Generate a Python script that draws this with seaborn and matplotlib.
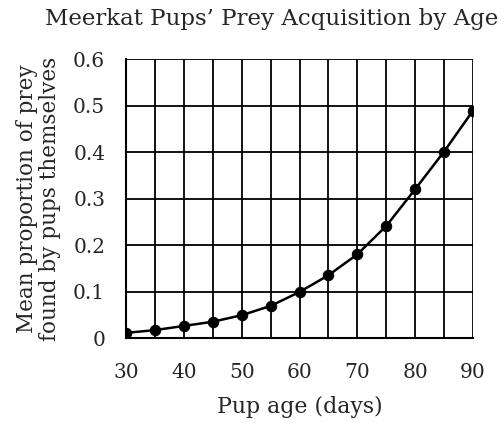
import matplotlib
matplotlib.use("Agg")
import matplotlib.pyplot as plt
import seaborn as sns
import pandas as pd
from matplotlib.ticker import MultipleLocator

age = [30, 35, 40, 45, 50, 55, 60, 65, 70, 75, 80, 85, 90]
proportion = [0.011, 0.017, 0.026, 0.035, 0.049, 0.069, 0.099, 0.135, 0.18, 0.241, 0.32, 0.401, 0.489]
y_ticks = [0, 0.1, 0.2, 0.3, 0.4, 0.5, 0.6]
y_tick_labels = ["0", "0.1", "0.2", "0.3", "0.4", "0.5", "0.6"]

df = pd.DataFrame({"age": age, "proportion": proportion})

sns.set_style("white")
plt.rcParams['font.family'] = ['DejaVu Serif']

fig = plt.figure(figsize=(5.04, 4.23), dpi=100)
ax = fig.add_axes([0.25, 0.2009, 0.6885, 0.6596])

sns.lineplot(data=df, x="age", y="proportion", ax=ax, color="black", linewidth=1.8,
             marker="o", markersize=7.5, markeredgecolor="black", markerfacecolor="black",
             zorder=5)

ax.set_xlim(30, 90)
ax.set_ylim(0, 0.6)
ax.xaxis.set_major_locator(MultipleLocator(10))
ax.xaxis.set_minor_locator(MultipleLocator(5))
ax.set_yticks(y_ticks)
ax.set_yticklabels(y_tick_labels)
ax.grid(True, which="both", axis="x", color="black", linewidth=1.3)
ax.grid(True, which="major", axis="y", color="black", linewidth=1.3)
ax.set_axisbelow(True)
for s in ax.spines.values():
    s.set_visible(False)
for side in ["bottom", "left"]:
    ax.spines[side].set_visible(True)
    ax.spines[side].set_color("black")
    ax.spines[side].set_linewidth(1.5)

ax.tick_params(axis="x", which="major", direction="out", length=6, width=1.3, color="black", labelsize=14.5, pad=12)
ax.tick_params(axis="x", which="minor", length=0)
ax.tick_params(axis="y", which="major", direction="out", length=6, width=1.3, color="black", labelsize=14.5, pad=9)

ax.set_xlabel("Pup age (days)", fontsize=15.8, labelpad=10)
ax.set_ylabel("Mean proportion of prey\nfound by pups themselves", fontsize=15.5, labelpad=9, linespacing=1.05)
fig.text(0.538, 0.955, "Meerkat Pups\u2019 Prey Acquisition by Age", ha="center", va="center", fontsize=16.5)

fig.savefig("out.png", dpi=100)
